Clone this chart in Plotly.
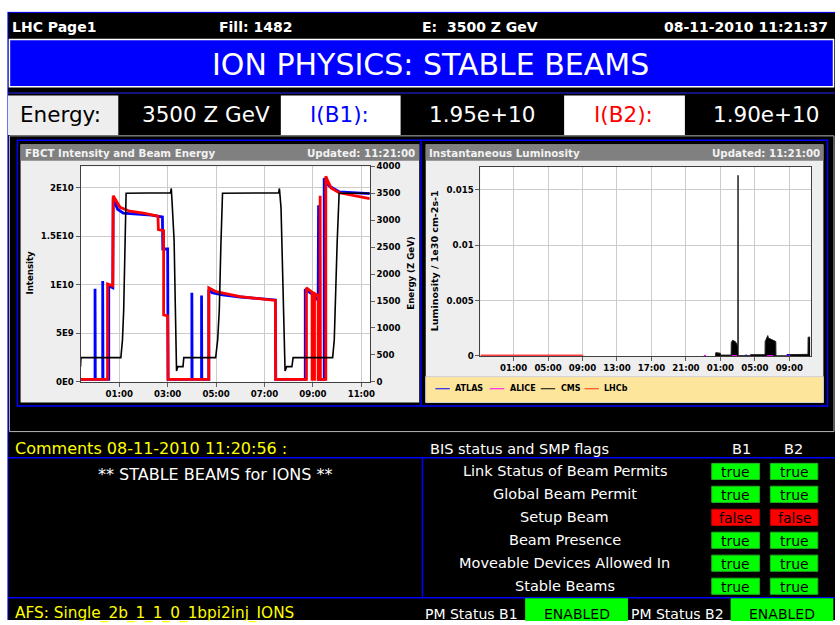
import plotly.graph_objects as go

W, H = 840, 625
def X(p): return p / W
def Y(p): return 1 - p / H

D7 = "2010-11-07 "
D8 = "2010-11-08 "

# ---------------- FBCT intensity (left chart) ----------------
B1_TIME = [D7+"23:24", D8+"00:00", D8+"00:00", D8+"00:00:40", D8+"00:19", D8+"00:19", D8+"00:19:40",
           D8+"00:34", D8+"00:34", D8+"00:44", D8+"00:45", D8+"00:50", D8+"00:56", D8+"01:10", D8+"01:40",
           D8+"02:20", D8+"02:47", D8+"02:48", D8+"03:00", D8+"03:01",
           D8+"04:00", D8+"04:00", D8+"04:00:40", D8+"04:24", D8+"04:24", D8+"04:24:40",
           D8+"04:42", D8+"04:42", D8+"04:50", D8+"05:16", D8+"06:00", D8+"06:40", D8+"07:27", D8+"07:28",
           D8+"08:41", D8+"08:41", D8+"09:00", D8+"09:13", D8+"09:14", D8+"09:14:40",
           D8+"09:28", D8+"09:28", D8+"09:33", D8+"09:40", D8+"10:05", D8+"10:40", D8+"11:21"]
B1_INT = [2.5e8, 2.5e8, 9.6e9, 2.5e8, 2.5e8, 1.04e10, 2.5e8,
          2.5e8, 9.9e9, 9.7e9, 1.89e10, 1.84e10, 1.78e10, 1.74e10, 1.73e10,
          1.72e10, 1.70e10, 1.37e10, 1.37e10, 2.5e8,
          2.5e8, 9.2e9, 2.5e8, 2.5e8, 8.9e9, 2.5e8,
          2.5e8, 9.5e9, 9.2e9, 8.96e9, 8.75e9, 8.6e9, 8.45e9, 2.5e8,
          2.5e8, 9.55e9, 9.0e9, 8.4e9, 1.82e10, 2.5e8,
          2.5e8, 2.1e10, 2.07e10, 2.02e10, 1.96e10, 1.95e10, 1.94e10]

B2_TIME = [D7+"23:24", D8+"00:31", D8+"00:31", D8+"00:44", D8+"00:45", D8+"00:48", D8+"01:02", D8+"01:26",
           D8+"02:00", D8+"02:36", D8+"02:37", D8+"02:50", D8+"02:50", D8+"03:00", D8+"03:01",
           D8+"04:42", D8+"04:42", D8+"05:00", D8+"05:27", D8+"06:00", D8+"06:40", D8+"07:27", D8+"07:27:30",
           D8+"08:44", D8+"08:44", D8+"08:58", D8+"08:58", D8+"08:59", D8+"08:59",
           D8+"09:03", D8+"09:03", D8+"09:04", D8+"09:04", D8+"09:13", D8+"09:13",
           D8+"09:18", D8+"09:18", D8+"09:18:40", D8+"09:32", D8+"09:32", D8+"09:36", D8+"09:45",
           D8+"10:05", D8+"10:40", D8+"11:21"]
B2_INT = [2.5e8, 2.5e8, 1.01e10, 9.9e9, 1.92e10, 1.90e10, 1.80e10, 1.76e10,
          1.74e10, 1.71e10, 1.57e10, 1.56e10, 6.9e9, 6.8e9, 2.5e8,
          2.5e8, 9.7e9, 9.3e9, 9.06e9, 8.8e9, 8.6e9, 8.4e9, 2.5e8,
          2.5e8, 9.7e9, 9.25e9, 2.5e8, 2.5e8, 9.2e9,
          9.15e9, 2.5e8, 2.5e8, 9.1e9, 8.9e9, 2.5e8,
          2.5e8, 1.92e10, 2.5e8, 2.5e8, 2.12e10, 2.08e10, 2.0e10,
          1.95e10, 1.92e10, 1.89e10]

E_TIME = [D7+"23:24", D7+"23:25", D8+"01:04", D8+"01:08", D8+"01:11", D8+"01:15", D8+"01:17",
          D8+"03:07", D8+"03:09", D8+"03:11", D8+"03:16", D8+"03:19", D8+"03:21", D8+"03:22",
          D8+"03:25", D8+"03:38", D8+"03:40", D8+"04:59", D8+"05:04", D8+"05:08", D8+"05:12", D8+"05:16",
          D8+"07:35", D8+"07:37", D8+"07:41", D8+"07:45", D8+"07:47", D8+"07:50", D8+"07:51",
          D8+"07:55", D8+"08:08", D8+"08:11", D8+"09:49", D8+"09:53", D8+"09:56", D8+"10:00", D8+"10:05",
          D8+"11:21"]
E_GEV = [283, 450, 450, 780, 1330, 2680, 3500,
         3510, 3590, 3330, 2620, 1400, 400, 202,
         283, 283, 450, 450, 784, 1335, 2560, 3500,
         3510, 3590, 3230, 1830, 1030, 417, 202,
         283, 283, 450, 450, 784, 1640, 2560, 3500,
         3500]

INT_TICKS = [0, 5e9, 1e10, 1.5e10, 2e10]
INT_TICKTEXT = ["0E0", "5E9", "1E10", "1.5E10", "2E10"]
FBCT_XTICKS = [D8+"01:00", D8+"03:00", D8+"05:00", D8+"07:00", D8+"09:00", D8+"11:00"]

# ---------------- Luminosity (right chart) ----------------
CMS_TIME = [D8+"00:26", D8+"00:28", D8+"00:45", D8+"01:00", D8+"01:01", D8+"02:15", D8+"02:16", D8+"02:25",
            D8+"02:35", D8+"02:44", D8+"02:58", D8+"03:02", D8+"03:03", D8+"03:04", D8+"04:28", D8+"04:29",
            D8+"06:11", D8+"06:12", D8+"06:30", D8+"06:35", D8+"06:46", D8+"06:55", D8+"07:09", D8+"07:21",
            D8+"07:26", D8+"07:27", D8+"08:42", D8+"08:43", D8+"10:00", D8+"11:10", D8+"11:11", D8+"11:25"]
CMS_LUMI = [0, 0.0003, 0.00028, 0.00025, 0.00008, 0.00008, 0.0012, 0.00142,
            0.00135, 0.0013, 0.001, 0.00095, 0.0163, 0.00003, 0.00003, 0.00012,
            0.00012, 0.0013, 0.00184, 0.0016, 0.00155, 0.0015, 0.0014, 0.00135,
            0.0013, 0.00002, 0.00002, 0.00012, 0.00012, 0.00015, 0.0017, 0.0017]
LHCB_TIME = ["2010-11-06 21:09", D7+"09:05"]
LHCB_LUMI = [0, 0]
ALICE_TIME = [D7+"23:05", D7+"23:20", None, D8+"02:21", D8+"02:56", None, D8+"06:23", D8+"07:09",
              None, D8+"08:42", D8+"09:05"]
ALICE_LUMI = [0.00003, 0.00003, None, 0.00003, 0.00003, None, 0.00003, 0.00003, None, 0.00003, 0.00003]
ATLAS_TIME = [D8+"03:55", D8+"04:02", None, D8+"08:44", D8+"09:00"]
ATLAS_LUMI = [0.0001, 0.0001, None, 0.00008, 0.00008]
LUMI_TICKS = [0, 0.005, 0.01, 0.015]
LUMI_TICKTEXT = ["0", "0.005", "0.01", "0.015"]
LUMI_XTICKS = [D7+"01:00", D7+"05:00", D7+"09:00", D7+"13:00", D7+"17:00", D7+"21:00",
               D8+"01:00", D8+"05:00", D8+"09:00"]
LEGEND_NAMES = ["ATLAS", "ALICE", "CMS", "LHCb"]
LEGEND_COLORS = ["#0000ff", "#ff00ff", "#000000", "#ff3300"]

# ---------------- Page texts ----------------
HEADER = ["LHC Page1", "Fill: 1482", "E:\u00a0 3500 Z GeV", "08-11-2010 11:21:37"]
BANNER = "ION PHYSICS: STABLE BEAMS"
ENERGY = "3500 Z GeV"
I_B1 = "1.95e+10"
I_B2 = "1.90e+10"
FLAG_LABELS = ["Link Status of Beam Permits", "Global Beam Permit", "Setup Beam",
               "Beam Presence", "Moveable Devices Allowed In", "Stable Beams"]
FLAG_B1 = [True, True, False, True, True, True]
FLAG_B2 = [True, True, False, True, True, True]

FONT = "DejaVu Sans"

fig = go.Figure()
fig.add_trace(go.Scatter(x=B1_TIME, y=B1_INT, mode="lines", line=dict(color="#0000ff", width=2.8),
                         xaxis="x", yaxis="y", showlegend=False, hoverinfo="skip"))
fig.add_trace(go.Scatter(x=B2_TIME, y=B2_INT, mode="lines", line=dict(color="#ff0000", width=2.8),
                         xaxis="x", yaxis="y", showlegend=False, hoverinfo="skip"))
fig.add_trace(go.Scatter(x=E_TIME, y=E_GEV, mode="lines", line=dict(color="#000000", width=1.6),
                         xaxis="x", yaxis="y2", showlegend=False, hoverinfo="skip"))

fig.add_trace(go.Scatter(x=LHCB_TIME, y=LHCB_LUMI, mode="lines", line=dict(color="#ff4040", width=3),
                         xaxis="x2", yaxis="y3", showlegend=False, hoverinfo="skip"))
fig.add_trace(go.Scatter(x=CMS_TIME, y=CMS_LUMI, mode="lines", line=dict(color="#202020", width=1),
                         fill="tozeroy", fillcolor="#000000",
                         xaxis="x2", yaxis="y3", showlegend=False, hoverinfo="skip"))
fig.add_trace(go.Scatter(x=ALICE_TIME, y=ALICE_LUMI, mode="lines", line=dict(color="#ff00ff", width=1.5),
                         xaxis="x2", yaxis="y3", showlegend=False, hoverinfo="skip", connectgaps=False))
fig.add_trace(go.Scatter(x=ATLAS_TIME, y=ATLAS_LUMI, mode="lines", line=dict(color="#0000ff", width=1.5),
                         xaxis="x2", yaxis="y3", showlegend=False, hoverinfo="skip", connectgaps=False))

shapes = []
def rect(x0, y0, x1, y1, fill=None, line=None, lw=1, layer="below"):
    shapes.append(dict(type="rect", xref="paper", yref="paper", x0=X(x0), x1=X(x1), y0=Y(y1), y1=Y(y0),
                       fillcolor=fill if fill else "rgba(0,0,0,0)",
                       line=dict(color=line if line else "rgba(0,0,0,0)", width=lw if line else 0),
                       layer=layer))
def hline(x0, x1, y, color, lw=1):
    shapes.append(dict(type="line", xref="paper", yref="paper", x0=X(x0), x1=X(x1), y0=Y(y), y1=Y(y),
                       line=dict(color=color, width=lw), layer="below"))
def vline(x, y0, y1, color, lw=1):
    shapes.append(dict(type="line", xref="paper", yref="paper", x0=X(x), x1=X(x), y0=Y(y0), y1=Y(y1),
                       line=dict(color=color, width=lw), layer="below"))

# page background
rect(8, 7, 840, 625, fill="#000000")
hline(8, 840, 7.5, "#0000ff")
vline(8, 7, 625, "#0000ff")
# banner
rect(9.5, 35, 838.5, 83, fill="#0000ff", line="#ffffff", lw=1.5)
hline(8, 840, 89.5, "#1a1aa0", 1.5)
# value row
rect(8, 92, 119, 132, fill="#eeeeee")
rect(282.5, 92, 403, 132, fill="#ffffff")
rect(567.5, 92, 689, 132, fill="#ffffff")
# chart frame
rect(9.5, 133, 839, 433.5, line="#b4b4b4", lw=1)
rect(17.5, 137.5, 832.5, 407.5, line="#0000ff", lw=1.5)
vline(423.5, 137.5, 407.5, "#0000ff", 1.5)
rect(20.7, 141.7, 421.7, 404, fill="#eeeeee")
rect(20.7, 141.7, 421.7, 158.3, fill="#808080")
rect(428.3, 141.7, 828.3, 404, fill="#eeeeee")
rect(428.3, 141.7, 828.3, 158.3, fill="#808080")
rect(428.3, 377.7, 828.3, 404, fill="#fde69c", line="#d0d0d0", lw=1)
rect(81, 164, 372, 383, fill="#ffffff")
rect(483.3, 164.3, 815.7, 356.7, fill="#ffffff")
# bottom section lines
hline(8, 840, 460, "#0000ff", 1.5)
vline(425, 460, 602.3, "#0000ff", 1.5)
hline(8, 840, 602.3, "#0000ff", 1.5)

ann = []
def text(s, x, y, size, color="#ffffff", anchor="left", bold=False, angle=0):
    ann.append(dict(text=s, x=X(x), y=Y(y), xref="paper", yref="paper", showarrow=False,
                    xanchor=anchor, yanchor="middle", textangle=angle,
                    font=dict(family=FONT, size=size, color=color, weight="bold" if bold else "normal")))

# header
text(HEADER[0], 10, 22, 14, bold=True)
text(HEADER[1], 218, 22, 14, bold=True)
text(HEADER[2], 423, 22, 14, bold=True)
text(HEADER[3], 835, 22, 14, anchor="right", bold=True)
text(BANNER, 433.5, 60, 30, anchor="center")
text("Energy:", 18, 111.5, 21.5, color="#000000")
text(ENERGY, 207.5, 111.5, 21.5, anchor="center")
text("I(B1):", 342, 111.5, 21.5, color="#0000ff", anchor="center")
text(I_B1, 484.5, 111.5, 21.5, anchor="center")
text("I(B2):", 627.5, 111.5, 21.5, color="#ff0000", anchor="center")
text(I_B2, 771, 111.5, 21.5, anchor="center")

# chart titles
text("FBCT Intensity and Beam Energy", 22.7, 150.3, 10.3, color="#f2f2f2", bold=True)
text("Updated: 11:21:00", 419.3, 150.3, 10.3, color="#f2f2f2", anchor="right", bold=True)
text("Instantaneous Luminosity", 430, 150.3, 10.3, color="#f2f2f2", bold=True)
text("Updated: 11:21:00", 826.7, 150.3, 10.3, color="#f2f2f2", anchor="right", bold=True)
text("Intensity", 30, 272, 8.6, color="#000000", anchor="center", bold=True, angle=-90)
text("Energy (Z GeV)", 414, 272.5, 8.6, color="#000000", anchor="center", bold=True, angle=-90)
text("Luminosity / 1e30 cm-2s-1", 437, 260, 9.5, color="#000000", anchor="center", bold=True, angle=-90)

# legend (manual, matching the small line samples)
LEG_X = [438, 492.7, 544, 588]
for name, col, lx in zip(LEGEND_NAMES, LEGEND_COLORS, LEG_X):
    shapes.append(dict(type="line", xref="paper", yref="paper", x0=X(lx), x1=X(lx + 14.5), y0=Y(390), y1=Y(390),
                       line=dict(color=col, width=1), layer="above"))
    text(name, lx + 18, 390, 8, color="#000000", bold=True)

# bottom section
text("Comments 08-11-2010 11:20:56 :", 13, 451, 16, color="#ffff00")
text("BIS status and SMP flags", 430.7, 451, 14.5)
text("B1", 745.7, 451, 14.5, anchor="center")
text("B2", 798.3, 451, 14.5, anchor="center")
text("** STABLE BEAMS for IONS **", 216.7, 476.7, 16, anchor="center")
ROW_Y = [474, 497.3, 520.7, 544, 567.3, 590.7]
for lab, f1, f2, ry in zip(FLAG_LABELS, FLAG_B1, FLAG_B2, ROW_Y):
    text(lab, 568.3, ry, 14.5, anchor="center")
    for f, bx0, bx1 in ((f1, 716, 764), (f2, 775, 822.7)):
        rect(bx0, ry - 8.2, bx1, ry + 8.2, fill="#00ff00" if f else "#ff0000",
             line="#20b020" if f else "#c00000", lw=1)
        text("true" if f else "false", (bx0 + bx1) / 2, ry + 0.5, 14, color="#000000", anchor="center")

# footer
text("AFS: Single_2b_1_1_0_1bpi2inj_IONS", 13, 618.8, 15.3, color="#ffff00")
text("PM Status B1", 426, 618.8, 14)
rect(528.3, 603, 631.7, 626, fill="#00ff00")
text("ENABLED", 580, 618.8, 14, color="#000000", anchor="center")
text("PM Status B2", 632.7, 618.8, 14)
rect(735, 603, 838.3, 626, fill="#00ff00")
text("ENABLED", 786.7, 618.8, 14, color="#000000", anchor="center")

TF = dict(family=FONT, size=8.6, color="#000000", weight="bold")
axis_common = dict(ticks="outside", ticklen=4, tickcolor="#606060", showline=True, linecolor="#404040",
                   linewidth=1, zeroline=False, tickfont=TF, fixedrange=True)

fig.update_layout(
    width=W, height=H, margin=dict(l=0, r=0, t=0, b=0),
    paper_bgcolor="#ffffff", plot_bgcolor="rgba(0,0,0,0)",
    shapes=shapes, annotations=ann, showlegend=False,
    xaxis=dict(domain=[X(81), X(372)], anchor="y", type="date",
               range=[D7+"23:24", D8+"11:21"], tickvals=FBCT_XTICKS, tickformat="%H:%M",
               showgrid=True, gridcolor="#cccccc", gridwidth=1, mirror=True, **axis_common),
    yaxis=dict(domain=[Y(383), Y(164)], anchor="x", range=[0, 2.222e10],
               tickvals=INT_TICKS, ticktext=INT_TICKTEXT, showgrid=True, gridcolor="#cccccc",
               mirror=True, **axis_common),
    yaxis2=dict(overlaying="y", anchor="x", side="right", range=[0, 4000], tick0=0, dtick=500,
                showgrid=False, **axis_common),
    xaxis2=dict(domain=[X(483.3), X(815.7)], anchor="y3", type="date",
                range=["2010-11-06 21:09", D8+"11:30"], tickvals=LUMI_XTICKS, tickformat="%H:%M",
                showgrid=True, gridcolor="#cccccc", mirror=True, **axis_common),
    yaxis3=dict(domain=[Y(356.7), Y(164.3)], anchor="x2", range=[0, 0.01708],
                tickvals=LUMI_TICKS, ticktext=LUMI_TICKTEXT, showgrid=True, gridcolor="#cccccc",
                mirror=True, **axis_common),
)

fig.write_html("out.html", config={"displayModeBar": False, "staticPlot": True},
               post_script="document.body.style.margin='0';document.body.style.overflow='hidden';")
